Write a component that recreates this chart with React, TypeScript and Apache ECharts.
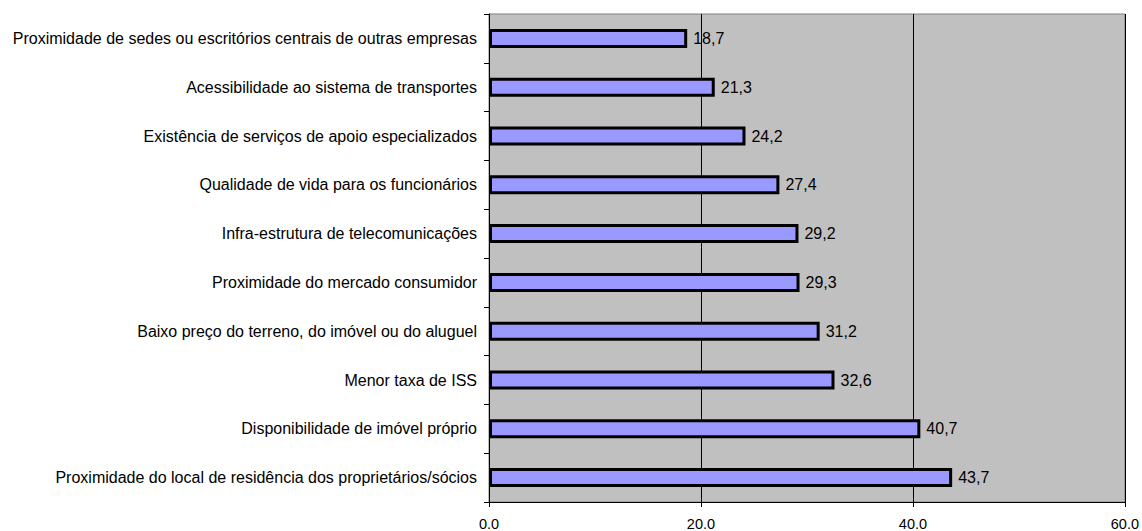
import React, { useEffect, useRef } from "react";
import * as echarts from "echarts";

const categories = [
  "Proximidade de sedes ou escritórios centrais de outras empresas",
  "Acessibilidade ao sistema de transportes",
  "Existência de serviços de apoio especializados",
  "Qualidade de vida para os funcionários",
  "Infra-estrutura de telecomunicações",
  "Proximidade do mercado consumidor",
  "Baixo preço do terreno, do imóvel ou do aluguel",
  "Menor taxa de ISS",
  "Disponibilidade de imóvel próprio",
  "Proximidade do local de residência dos proprietários/sócios",
];
const values = [18.7, 21.3, 24.2, 27.4, 29.2, 29.3, 31.2, 32.6, 40.7, 43.7];
const xMin = 0;
const xMax = 60;
const xStep = 20;

export default function App() {
  const ref = useRef<HTMLDivElement>(null);
  useEffect(() => {
    if (!ref.current) return;
    const chart = echarts.init(ref.current, undefined, { renderer: "svg" });
    const font = "'Liberation Sans', Arial, sans-serif";
    chart.setOption({
      animation: false,
      backgroundColor: "#ffffff",
      grid: {
        left: 489,
        right: 15,
        top: 14,
        bottom: 26,
        show: true,
        backgroundColor: "#C0C0C0",
        borderColor: "#808080",
        borderWidth: 1,
        containLabel: false,
      },
      xAxis: {
        type: "value",
        min: xMin,
        max: xMax,
        interval: xStep,
        axisLine: { show: true, lineStyle: { color: "#000", width: 1 } },
        axisTick: { show: true, length: 5, lineStyle: { color: "#000" } },
        splitLine: { show: true, lineStyle: { color: "#000", width: 1 } },
        axisLabel: {
          fontFamily: font,
          fontSize: 14.5,
          color: "#000",
          margin: 14,
          formatter: (v: number) => v.toFixed(1),
        },
      },
      yAxis: {
        type: "category",
        data: categories,
        inverse: true,
        axisLine: { show: true, lineStyle: { color: "#000", width: 1 } },
        axisTick: { show: true, length: 5, lineStyle: { color: "#000" } },
        axisLabel: {
          fontFamily: font,
          fontSize: 16,
          color: "#000",
          margin: 12,
        },
      },
      series: [
        {
          type: "bar",
          data: values,
          barWidth: 19,
          itemStyle: { color: "#9999FF", borderColor: "#000", borderWidth: 3 },
          label: {
            show: true,
            position: "right",
            distance: 6,
            fontFamily: font,
            fontSize: 16,
            color: "#000",
            formatter: (p: any) => String(p.value).replace(".", ","),
          },
        },
      ],
    });
    return () => chart.dispose();
  }, []);
  return (
    <div
      ref={ref}
      style={{ position: "fixed", left: 0, top: 0, width: 1142, height: 531 }}
    />
  );
}
